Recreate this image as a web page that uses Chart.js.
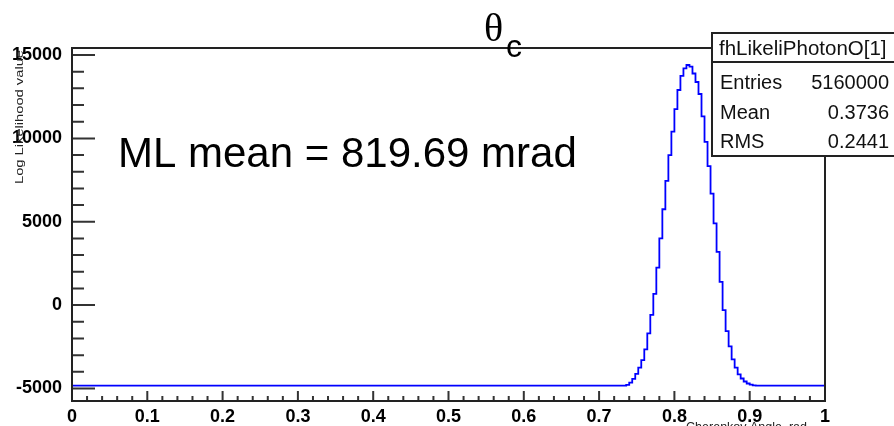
<!DOCTYPE html>
<html>
<head>
<meta charset="utf-8">
<script src="https://cdn.jsdelivr.net/npm/chart.js@4/dist/chart.umd.min.js"></script>
<style>
  body { margin: 0; background: #fff; }
  #wrap { width: 894px; height: 426px; }
</style>
</head>
<body>
<div id="wrap"><canvas id="likeliChart" width="894" height="426"></canvas></div>
<script>
// histogram bins (centres, rad) and contents
const binCenters = [0.738, 0.742, 0.746, 0.750, 0.754, 0.758, 0.762, 0.766, 0.770, 0.774,
  0.778, 0.782, 0.786, 0.790, 0.794, 0.798, 0.802, 0.806, 0.810, 0.814,
  0.818, 0.822, 0.826, 0.830, 0.834, 0.838, 0.842, 0.846, 0.850, 0.854,
  0.858, 0.862, 0.866, 0.870, 0.874, 0.878, 0.882, 0.886, 0.890, 0.894,
  0.898, 0.902, 0.906];
const binValues = [-4780, -4650, -4420, -4120, -3750, -3300, -2650, -1700, -580, 680,
  2250, 4000, 5750, 7450, 9000, 10400, 11750, 12900, 13750, 14200,
  14400, 14300, 13890, 13380, 12660, 11320, 9790, 8340, 6690, 4900,
  3190, 1400, -300, -1560, -2470, -3250, -3750, -4150, -4400, -4580,
  -4700, -4770, -4810];
const baseline = -4830;
const flatEdges = [0, 0.734, 0.910, 1];

const xTicks = [0, 0.1, 0.2, 0.3, 0.4, 0.5, 0.6, 0.7, 0.8, 0.9, 1];
const yTicks = [-5000, 0, 5000, 10000, 15000];
const statsTitle = 'fhLikeliPhotonO[1]';
const statsNames = ['Entries', 'Mean', 'RMS'];
const statsValues = ['5160000', '0.3736', '0.2441'];

const points = [{x: flatEdges[0], y: baseline}, {x: flatEdges[1], y: baseline}];
for (let i = 0; i < binCenters.length; i++) {
  points.push({x: binCenters[i], y: binValues[i]});
}
points.push({x: flatEdges[2], y: baseline}, {x: flatEdges[3], y: baseline});

const SANS = '"Liberation Sans", Arial, sans-serif';

//frame, inner tick marks, labels and stats box in ROOT style
const rootStyle = {
  id: 'rootStyle',
  afterDraw(chart) {
    const ctx = chart.ctx;
    const area = chart.chartArea;
    const xs = chart.scales.x;
    const ys = chart.scales.y;
    ctx.save();

    // tick marks
    ctx.strokeStyle = '#333';
    ctx.lineWidth = 2;
    ctx.beginPath();
    for (let k = 0; k <= 50; k++) {
      const px = xs.getPixelForValue(k / 50);
      const len = k % 5 === 0 ? 10 : 5;
      ctx.moveTo(px, area.bottom);
      ctx.lineTo(px, area.bottom - len);
    }
    for (let v = -5000; v <= 15000; v += 1000) {
      const py = ys.getPixelForValue(v);
      const len = v % 5000 === 0 ? 23 : 12;
      ctx.moveTo(area.left, py);
      ctx.lineTo(area.left + len, py);
    }
    ctx.stroke();

    // frame
    ctx.strokeStyle = '#222';
    ctx.strokeRect(area.left, area.top, area.right - area.left, area.bottom - area.top);

    // axis titles
    ctx.fillStyle = '#222';
    ctx.save();
    ctx.translate(20, 117);
    ctx.rotate(-Math.PI / 2);
    ctx.font = '11px ' + SANS;
    const tw = ctx.measureText('Log Likelihood value').width;
    ctx.scale(134 / tw, 1);
    ctx.textAlign = 'center';
    ctx.textBaseline = 'middle';
    ctx.fillText('Log Likelihood value', 0, 0);
    ctx.restore();

    ctx.font = '12.5px ' + SANS;
    ctx.textAlign = 'right';
    ctx.textBaseline = 'alphabetic';
    ctx.fillText('Cherenkov Angle, rad', 807, 431);

    // annotation
    ctx.fillStyle = '#000';
    ctx.textAlign = 'left';
    ctx.font = '42px ' + SANS;
    ctx.fillText('ML mean = 819.69 mrad', 118, 167);

    // theta_c title
    ctx.font = '40px "Liberation Serif", "Times New Roman", serif';
    ctx.fillText('\u03b8', 484, 41);
    ctx.font = '32px ' + SANS;
    ctx.fillText('c', 506, 57);

    // stats box
    ctx.fillStyle = '#fff';
    ctx.fillRect(712, 33, 190, 123);
    ctx.strokeStyle = '#222';
    ctx.lineWidth = 2;
    ctx.strokeRect(712, 33, 190, 123);
    ctx.beginPath();
    ctx.moveTo(712, 62);
    ctx.lineTo(902, 62);
    ctx.stroke();
    ctx.fillStyle = '#111';
    ctx.font = '20.5px ' + SANS;
    ctx.textAlign = 'left';
    ctx.fillText(statsTitle, 719, 55);
    ctx.font = '20px ' + SANS;
    const rowY = [89, 119, 148];
    statsNames.forEach((name, i) => {
      ctx.textAlign = 'left';
      ctx.fillText(name, 720, rowY[i]);
      ctx.textAlign = 'right';
      ctx.fillText(statsValues[i], 889, rowY[i]);
    });
    ctx.restore();
  }
};

const config = {
  type: 'line',
  data: {
    datasets: [{
      data: points,
      borderColor: '#0000ff',
      borderWidth: 1.8,
      pointRadius: 0,
      stepped: 'middle',
      fill: false,
    }],
  },
  options: {
    responsive: false,
    animation: false,
    layout: {padding: {top: 48, right: 69, left: 0, bottom: 0}},
    plugins: {legend: {display: false}, tooltip: {enabled: false}},
    scales: {
      x: {
        type: 'linear',
        min: 0,
        max: 1,
        afterBuildTicks: (axis) => { axis.ticks = xTicks.map(v => ({value: v})); },
        afterFit: (axis) => { axis.height = 25; },
        grid: {display: false, drawTicks: false},
        border: {display: false},
        ticks: {
          color: '#000',
          font: {family: SANS, size: 18, weight: 'bold'},
          padding: 5,
          maxRotation: 0,
          autoSkip: false,
          callback: (v) => String(v),
        },
      },
      y: {
        min: -5750,
        max: 15420,
        afterBuildTicks: (axis) => { axis.ticks = yTicks.map(v => ({value: v})); },
        afterFit: (axis) => { axis.width = 72; },
        grid: {display: false, drawTicks: false},
        border: {display: false},
        ticks: {
          color: '#000',
          font: {family: SANS, size: 18, weight: 'bold'},
          padding: 10,
          callback: (v) => String(v),
        },
      },
    },
  },
  plugins: [rootStyle],
};

new Chart(document.getElementById('likeliChart'), config);
</script>
</body>
</html>
